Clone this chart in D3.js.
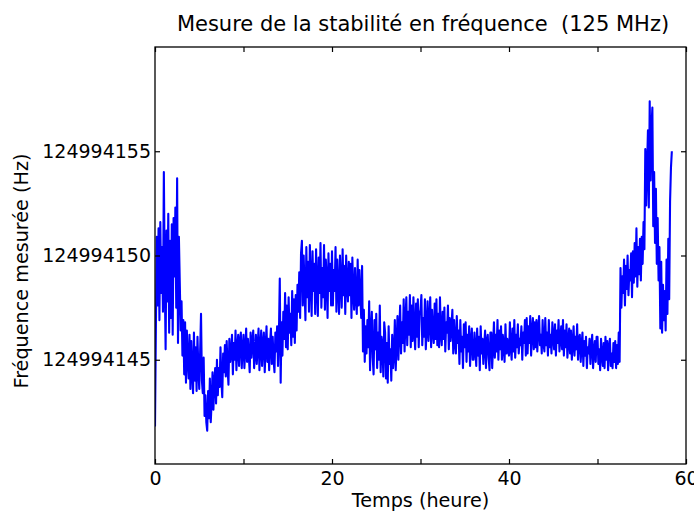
<!DOCTYPE html>
<html>
<head>
<meta charset="utf-8">
<script src="https://cdn.jsdelivr.net/npm/d3@7"></script>
<style>
  html, body { margin: 0; padding: 0; background: #fff; }
  svg text { font-family: "DejaVu Sans", sans-serif; fill: #000; }
</style>
</head>
<body>
<svg id="chart" width="694" height="514"></svg>
<script>
// ---- Data ----
const title = "Mesure de la stabilité en fréquence  (125 MHz)";
const xLabel = "Temps (heure)";
const yLabel = "Fréquence mesurée (Hz)";
const baseFreq = 124994000;          // values below are offsets in Hz from this base
const sampleStep = 0.1;              // hours between samples (one row = one hour)
const xDomain = [0, 60];
const yDomain = [140, 160];
const xTicks = [0, 10, 20, 30, 40, 50, 60];
const xTickLabels = ["0", "", "20", "", "40", "", "60"];
const yTicks = [145, 150, 155];
const yTickLabels = ["124994145", "124994150", "124994155"];

const freqOffset = [
  141.8, 146.5, 150.9, 147.6, 151.3, 146.9, 151.6, 148.2, 150.4, 147.3,
  154.0, 148.9, 145.5, 151.2, 147.8, 152.0, 146.3, 150.7, 147.0, 151.5,
  146.2, 151.8, 149.0, 152.3, 147.5, 153.7, 145.8, 150.9, 148.7, 146.4,
  147.8, 145.2, 146.9, 144.3, 146.8, 143.9, 146.4, 145.0, 144.1, 146.2,
  143.6, 145.9, 144.4, 143.4, 146.3, 144.0, 145.6, 143.5, 146.1, 144.6,
  143.6, 145.4, 147.2, 144.0, 143.4, 145.1, 142.3, 143.3, 142.0, 141.6,
  143.5, 142.2, 144.1, 142.0, 143.0, 144.4, 142.6, 143.9, 144.6, 142.9,
  145.0, 143.3, 144.6, 143.7, 145.6, 144.0, 143.2, 145.3, 144.4, 145.7,
  144.2, 145.9, 144.6, 143.8, 146.0, 144.9, 145.3, 146.2, 144.3, 145.8,
  145.0, 146.4, 144.5, 145.6, 146.2, 144.7, 145.9, 146.3, 144.6, 145.5,
  146.2, 144.6, 145.5, 146.5, 144.9, 146.0, 145.2, 144.4, 146.3, 145.1,
  145.9, 146.4, 144.6, 145.3, 146.2, 144.8, 145.7, 146.5, 144.5, 145.6,
  146.4, 144.7, 145.8, 146.3, 144.4, 145.6, 146.6, 144.9, 146.0, 144.5,
  145.8, 146.5, 144.8, 146.1, 145.0, 144.4, 146.3, 145.4, 146.6, 144.7,
  146.2, 148.9, 143.9, 146.8, 145.2, 147.3, 146.0, 148.2, 145.6, 147.6,
  145.5, 148.0, 146.3, 147.2, 145.7, 148.3, 146.1, 147.9, 145.8, 148.1,
  146.4, 148.6, 147.3, 149.2, 147.0, 150.1, 150.7, 147.6, 150.0, 148.4,
  146.9, 150.4, 148.0, 149.7, 147.3, 150.5, 148.8, 147.1, 150.2, 148.3,
  149.6, 147.2, 150.3, 148.6, 147.1, 149.9, 148.2, 150.6, 147.5, 149.4,
  148.0, 150.5, 147.4, 149.8, 148.9, 147.0, 150.1, 148.3, 149.6, 147.6,
  150.2, 147.6, 149.3, 148.3, 150.4, 147.3, 149.8, 148.5, 147.2, 150.0,
  148.7, 147.5, 150.3, 148.1, 149.5, 147.2, 150.0, 148.6, 147.8, 149.7,
  148.1, 149.6, 147.0, 149.9, 148.2, 147.4, 149.4, 148.0, 147.2, 149.8,
  147.6, 149.3, 148.1, 147.0, 149.5, 145.4, 147.4, 144.9, 146.6, 145.3,
  146.9, 145.6, 147.8, 144.5, 146.4, 147.3, 145.1, 144.3, 146.9, 145.5,
  147.2, 144.6, 146.3, 145.0, 147.6, 144.4, 146.1, 145.7, 144.2, 146.8,
  146.3, 144.1, 145.8, 143.9, 146.6, 144.8, 145.5, 144.0, 146.2, 144.6,
  145.2, 146.9, 144.5, 145.8, 147.1, 145.0, 146.4, 147.6, 145.3, 146.8,
  145.8, 147.9, 145.4, 146.9, 148.0, 145.7, 147.3, 146.2, 148.1, 145.6,
  147.6, 145.9, 148.0, 146.4, 145.5, 147.7, 146.1, 147.9, 145.6, 147.2,
  147.4, 148.1, 145.7, 147.0, 146.1, 147.9, 145.5, 146.6, 147.8, 145.9,
  146.8, 148.0, 145.6, 147.4, 146.3, 145.8, 147.7, 146.0, 147.9, 145.7,
  147.2, 145.6, 148.0, 146.2, 145.7, 147.3, 146.0, 147.5, 145.4, 146.8,
  146.3, 147.6, 145.5, 147.0, 145.9, 146.6, 147.4, 145.3, 146.9, 145.8,
  145.3, 147.1, 145.8, 146.4, 144.8, 146.9, 145.4, 146.1, 144.6, 146.7,
  145.6, 146.8, 144.9, 146.2, 145.4, 146.6, 144.7, 145.9, 146.5, 145.0,
  145.0, 146.3, 145.5, 144.7, 146.5, 145.2, 146.1, 144.5, 146.6, 145.3,
  146.0, 144.8, 145.7, 146.4, 144.6, 145.9, 146.2, 145.1, 144.5, 146.3,
  146.3, 144.6, 145.7, 146.8, 145.1, 146.2, 145.4, 146.9, 145.0, 146.4,
  145.5, 146.6, 145.0, 146.2, 145.6, 144.9, 146.7, 145.3, 146.0, 145.4,
  145.2, 146.8, 145.6, 145.0, 146.5, 145.4, 146.9, 145.1, 146.2, 145.6,
  146.7, 145.3, 146.0, 145.7, 146.6, 145.0, 146.3, 145.8, 146.9, 145.2,
  147.0, 145.3, 146.6, 145.8, 147.1, 145.2, 146.4, 147.0, 145.5, 146.8,
  145.6, 146.9, 145.4, 146.5, 147.1, 145.7, 146.2, 145.3, 146.9, 145.8,
  145.4, 147.0, 145.7, 146.3, 145.2, 146.9, 145.6, 146.2, 145.3, 146.8,
  146.1, 145.5, 146.7, 145.2, 146.4, 145.8, 146.9, 145.4, 146.0, 146.6,
  145.5, 146.9, 145.2, 146.4, 145.6, 146.7, 145.1, 145.9, 146.5, 145.3,
  146.4, 145.0, 145.8, 146.6, 145.2, 146.1, 145.5, 146.7, 145.0, 146.0,
  146.2, 144.9, 145.7, 146.3, 144.7, 145.9, 145.2, 146.1, 144.6, 145.6,
  145.3, 146.0, 144.8, 145.7, 146.2, 144.6, 145.4, 145.9, 144.9, 146.1,
  146.1, 144.8, 145.5, 144.5, 146.0, 145.2, 144.7, 145.8, 144.6, 146.1,
  145.0, 145.9, 144.5, 145.6, 146.0, 144.7, 145.3, 144.6, 145.8, 144.9,
  145.9, 144.6, 145.7, 144.8, 146.3, 144.9, 149.4, 147.5, 149.0, 148.2,
  149.8, 147.6, 149.5, 148.4, 150.0, 148.1, 149.3, 148.8, 150.1, 148.0,
  150.2, 148.7, 150.6, 149.0, 151.3, 148.5, 150.4, 149.1, 150.8, 148.8,
  150.9, 149.6, 151.6, 150.3, 155.1, 152.4, 154.2, 156.0, 152.3, 157.4,
  153.6, 156.2, 157.1, 151.4, 154.0, 150.6, 153.2, 149.6, 151.8, 148.8,
  150.4, 146.5, 149.7, 146.3, 148.6, 146.9, 148.3, 146.4, 149.8, 147.2,
  150.8, 147.9, 152.6, 154.2, 155.0
];

// ---- Layout ----
const W = 694, H = 514;
const plot = { left: 155, right: 686, top: 47, bottom: 464 };
const tickFont = 19;
const labelFont = 19.2;
const titleFont = 21;

const svg = d3.select("#chart");

const x = d3.scaleLinear().domain(xDomain).range([plot.left, plot.right]);
const y = d3.scaleLinear().domain(yDomain).range([plot.bottom, plot.top]);

const data = freqOffset.map((v, i) => ({ t: i * sampleStep, v }));

// clip
svg.append("defs").append("clipPath").attr("id", "clip")
  .append("rect")
  .attr("x", plot.left).attr("y", plot.top)
  .attr("width", plot.right - plot.left).attr("height", plot.bottom - plot.top);

// line
const line = d3.line().x(d => x(d.t)).y(d => y(d.v));
svg.append("path")
  .datum(data)
  .attr("clip-path", "url(#clip)")
  .attr("fill", "none")
  .attr("stroke", "#0000ff")
  .attr("stroke-width", 2.1)
  .attr("stroke-linejoin", "round")
  .attr("d", line);

// axes (ticks inside, matplotlib classic style)
const tickLen = 5;
const xAxisB = d3.axisBottom(x).tickValues(xTicks).tickSizeInner(-tickLen).tickSizeOuter(0)
  .tickPadding(7.5).tickFormat((d, i) => xTickLabels[i]);
const xAxisT = d3.axisTop(x).tickValues(xTicks).tickSizeInner(-tickLen).tickSizeOuter(0).tickFormat("");
const yAxisL = d3.axisLeft(y).tickValues(yTicks).tickSizeInner(-tickLen).tickSizeOuter(0)
  .tickPadding(4).tickFormat((d, i) => yTickLabels[i]);
const yAxisR = d3.axisRight(y).tickValues(yTicks).tickSizeInner(-tickLen).tickSizeOuter(0).tickFormat("");

function style(g) {
  g.select(".domain").remove();
  g.selectAll(".tick line").attr("stroke", "#000").attr("stroke-width", 1.2);
  g.selectAll(".tick text").style("font-size", tickFont + "px").style("font-family", "DejaVu Sans, sans-serif");
}

svg.append("g").attr("transform", `translate(0,${plot.bottom})`).call(xAxisB).call(style);
svg.append("g").attr("transform", `translate(0,${plot.top})`).call(xAxisT).call(style);
svg.append("g").attr("transform", `translate(${plot.left},0)`).call(yAxisL).call(style);
svg.append("g").attr("transform", `translate(${plot.right},0)`).call(yAxisR).call(style);

// frame
svg.append("rect")
  .attr("x", plot.left).attr("y", plot.top)
  .attr("width", plot.right - plot.left).attr("height", plot.bottom - plot.top)
  .attr("fill", "none").attr("stroke", "#000").attr("stroke-width", 1.3);

// title and labels
svg.append("text")
  .attr("x", 423).attr("y", 31)
  .attr("text-anchor", "middle").style("font-size", titleFont + "px")
  .style("white-space", "pre").attr("xml:space", "preserve")
  .text(title);

svg.append("text")
  .attr("x", (plot.left + plot.right) / 2).attr("y", 507)
  .attr("text-anchor", "middle").style("font-size", labelFont + "px")
  .text(xLabel);

svg.append("text")
  .attr("transform", `translate(28,271) rotate(-90)`)
  .attr("text-anchor", "middle").style("font-size", labelFont + "px")
  .text(yLabel);
</script>
</body>
</html>
